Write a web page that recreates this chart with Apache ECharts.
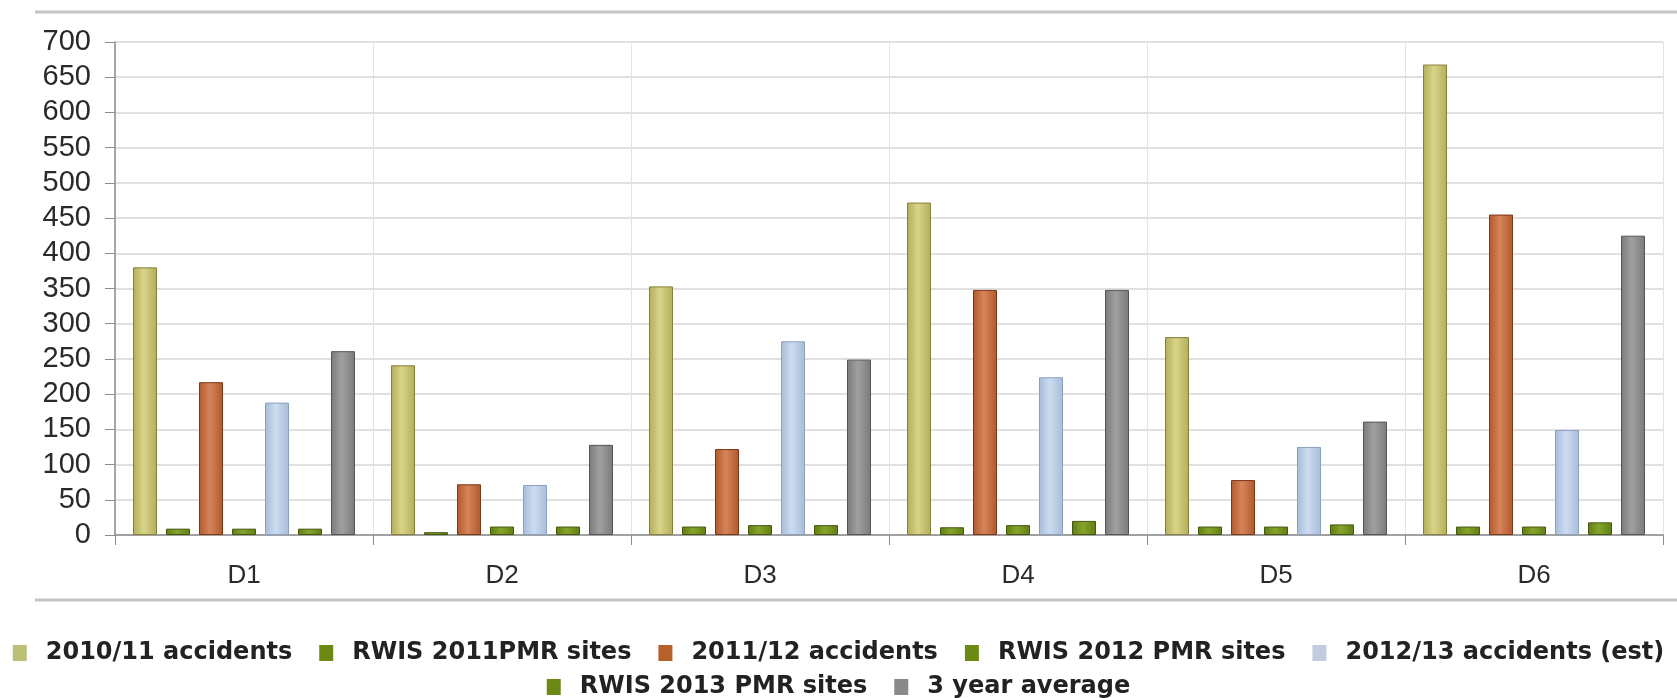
<!DOCTYPE html>
<html>
<head>
<meta charset="utf-8">
<title>Accidents by district</title>
<script src="https://cdn.jsdelivr.net/npm/echarts@6/dist/echarts.min.js"></script>
<style>
  html, body { margin: 0; padding: 0; background: #ffffff; }
  #chart { width: 1677px; height: 698px; }
</style>
</head>
<body>
<div id="chart"></div>
<script>
// Districts along the x axis
const categories = ['D1', 'D2', 'D3', 'D4', 'D5', 'D6'];

// Series values per district
const acc2010 = [380, 241, 353, 472, 281, 668];
const rwis2011 = [9, 4, 12, 11, 12, 12];
const acc2011 = [217, 72, 122, 348, 78, 455];
const rwis2012 = [9, 12, 14, 14, 12, 12];
const acc2012 = [188, 71, 275, 224, 125, 149];
const rwis2013 = [9, 12, 14, 20, 15, 18];
const avg3 = [261, 128, 249, 348, 161, 425];

// Series names as shown in the legend
const names = [
  '2010/11 accidents',
  'RWIS 2011PMR sites',
  '2011/12 accidents',
  'RWIS 2012 PMR sites',
  '2012/13 accidents (est)',
  'RWIS 2013 PMR sites',
  '3 year average'
];

// Y axis range
const yMin = 0, yMax = 700, yStep = 50;

// Bar palette: edge shade, highlight shade, outline, legend swatch
const palette = {
  olive:  { edge: '#b3ae58', light: '#d8d48a', border: '#85813a', swatch: '#bcbf78' },
  green:  { edge: '#5f7e14', light: '#86a42c', border: '#45590e', swatch: '#6c8914' },
  orange: { edge: '#b0582c', light: '#d6845a', border: '#7d3616', swatch: '#b8602c' },
  blue:   { edge: '#a6bcd9', light: '#cddcef', border: '#8aa0c0', swatch: '#c3cbdf' },
  gray:   { edge: '#7a7a7a', light: '#a0a0a0', border: '#555555', swatch: '#8a8a8a' }
};

function barStyle(p) {
  return {
    color: new echarts.graphic.LinearGradient(0, 0, 1, 0, [
      { offset: 0, color: p.edge },
      { offset: 0.45, color: p.light },
      { offset: 1, color: p.edge }
    ]),
    borderColor: p.border,
    borderWidth: 1
  };
}

function makeSeries(name, data, p) {
  return {
    name: name,
    type: 'bar',
    data: data,
    barWidth: 24,
    barGap: '37.5%',
    itemStyle: barStyle(p),
    emphasis: { disabled: true }
  };
}

const seriesDefs = [
  [acc2010, palette.olive],
  [rwis2011, palette.green],
  [acc2011, palette.orange],
  [rwis2012, palette.green],
  [acc2012, palette.blue],
  [rwis2013, palette.green],
  [avg3, palette.gray]
];

const legendText = {
  fontFamily: '"DejaVu Sans", Verdana, sans-serif',
  fontWeight: 'bold',
  fontSize: 24,
  color: '#222222',
  padding: [0, 0, 0, 14]
};

function legendData(idxs) {
  return idxs.map(i => ({
    name: names[i],
    icon: 'rect',
    itemStyle: { color: seriesDefs[i][1].swatch, borderWidth: 0 }
  }));
}

const legendCommon = {
  left: 'center',
  itemWidth: 14,
  itemHeight: 16,
  itemGap: 27,
  selectedMode: false,
  textStyle: legendText
};

const chart = echarts.init(document.getElementById('chart'), null, { renderer: 'canvas' });

chart.setOption({
  backgroundColor: '#ffffff',
  animation: false,
  grid: { left: 115, right: 14, top: 42, bottom: 163, containLabel: false },
  legend: [
    Object.assign({ data: legendData([0, 1, 2, 3, 4]), top: 636 }, legendCommon),
    Object.assign({ data: legendData([5, 6]), top: 670 }, legendCommon)
  ],
  xAxis: {
    type: 'category',
    data: categories,
    boundaryGap: true,
    axisLine: { lineStyle: { color: '#8c8c8c', width: 1.5 } },
    axisTick: { show: true, length: 10, alignWithLabel: false, lineStyle: { color: '#8c8c8c' } },
    splitLine: { show: true, lineStyle: { color: '#e4e4e4', width: 1 } },
    axisLabel: {
      margin: 28,
      fontFamily: '"Liberation Sans", Arial, sans-serif',
      fontSize: 26,
      color: '#2a2a2a'
    }
  },
  yAxis: {
    type: 'value',
    min: yMin,
    max: yMax,
    interval: yStep,
    axisLine: { show: true, lineStyle: { color: '#8c8c8c', width: 1.5 } },
    axisTick: { show: true, length: 10, lineStyle: { color: '#8c8c8c' } },
    splitLine: { show: true, lineStyle: { color: '#e0e0e0', width: 2 } },
    axisLabel: {
      margin: 24,
      fontFamily: '"Liberation Sans", Arial, sans-serif',
      fontSize: 29,
      color: '#2a2a2a'
    }
  },
  graphic: [
    { type: 'line', shape: { x1: 35, y1: 12, x2: 1677, y2: 12 }, style: { stroke: '#c4c4c4', lineWidth: 3 }, silent: true },
    { type: 'line', shape: { x1: 35, y1: 600, x2: 1677, y2: 600 }, style: { stroke: '#c4c4c4', lineWidth: 3 }, silent: true }
  ],
  series: seriesDefs.map((d, i) => makeSeries(names[i], d[0], d[1]))
});
</script>
</body>
</html>
